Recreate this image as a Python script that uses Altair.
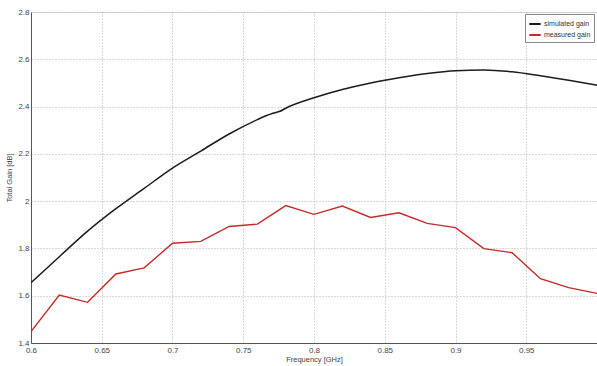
import altair as alt
import pandas as pd

sim_freq = [0.60, 0.62, 0.64, 0.66, 0.68, 0.70, 0.72, 0.74, 0.76, 0.766, 0.771, 0.776,
            0.78, 0.80, 0.82, 0.84, 0.86, 0.88, 0.90, 0.92, 0.94, 0.96, 0.98, 1.00]
sim_gain = [1.655, 1.765, 1.873, 1.968, 2.054, 2.140, 2.212, 2.284, 2.345, 2.361, 2.372, 2.380,
            2.393, 2.437, 2.472, 2.500, 2.522, 2.540, 2.552, 2.555, 2.547, 2.530, 2.511, 2.490]

meas_freq = [0.60, 0.62, 0.64, 0.66, 0.68, 0.70, 0.72, 0.74, 0.76, 0.78, 0.80,
             0.82, 0.84, 0.86, 0.88, 0.90, 0.92, 0.94, 0.96, 0.98, 1.00]
meas_gain = [1.448, 1.603, 1.572, 1.692, 1.718, 1.822, 1.830, 1.893, 1.903, 1.981, 1.944,
             1.979, 1.931, 1.951, 1.906, 1.888, 1.799, 1.782, 1.672, 1.634, 1.610]

series = ["simulated gain", "measured gain"]
colors = ["#1c1c1c", "#c42a2a"]

x_ticks = [0.6, 0.65, 0.7, 0.75, 0.8, 0.85, 0.9, 0.95]
y_ticks = [1.4, 1.6, 1.8, 2.0, 2.2, 2.4, 2.6, 2.8]

sim_df = pd.DataFrame({"series": series[0], "freq": sim_freq, "gain": sim_gain})
meas_df = pd.DataFrame({"series": series[1], "freq": meas_freq, "gain": meas_gain})

font = "Liberation Sans"

x_enc = alt.X("freq:Q",
              scale=alt.Scale(domain=[0.6, 1.0], nice=False, zero=False),
              axis=alt.Axis(values=x_ticks, format=".2~f", title="Frequency [GHz]",
                            grid=True, gridDash=[1, 2], gridColor="#b0b0b0",
                            domainColor="#555", ticks=False, labelFontSize=8,
                            labelColor="#444", labelFont=font, labelPadding=3,
                            titleFont=font, titleFontSize=7.5, titleFontWeight="normal",
                            titleColor="#444", titlePadding=1, labelFlush=False))
y_enc = alt.Y("gain:Q",
              scale=alt.Scale(domain=[1.4, 2.8], nice=False, zero=False),
              axis=alt.Axis(values=y_ticks, format=".1~f", title="Total Gain [dB]",
                            grid=True, gridDash=[1, 2], gridColor="#b0b0b0",
                            domainColor="#555", ticks=False, labelFontSize=8,
                            labelColor="#444", labelFont=font, labelPadding=2,
                            titleFont=font, titleFontSize=7.5, titleFontWeight="normal",
                            titleColor="#444", titlePadding=4))
c_enc = alt.Color("series:N",
                  scale=alt.Scale(domain=series, range=colors),
                  sort=series,
                  legend=alt.Legend(title=None, orient="none", legendX=494, legendY=2,
                                    symbolType="stroke", symbolSize=130,
                                    symbolStrokeWidth=2, labelFontSize=7,
                                    labelFont=font, labelColor="#333",
                                    rowPadding=0, padding=3, labelOffset=2,
                                    strokeColor="#888", fillColor="white",
                                    cornerRadius=0))

sim_line = alt.Chart(sim_df).mark_line(strokeWidth=1.5, clip=True, interpolate="monotone").encode(
    x=x_enc, y=y_enc, color=c_enc)
meas_line = alt.Chart(meas_df).mark_line(strokeWidth=1.4, clip=True).encode(
    x=x_enc, y=y_enc, color=c_enc)

chart = alt.layer(sim_line, meas_line).properties(
    width=566, height=331,
    autosize=alt.AutoSizeParams(type="none"),
    padding={"left": 31, "top": 12, "right": 0, "bottom": 23},
).configure_view(stroke="#555", strokeWidth=1).configure(background="white")

chart.save("out.html", embed_options={"renderer": "svg", "actions": False})
